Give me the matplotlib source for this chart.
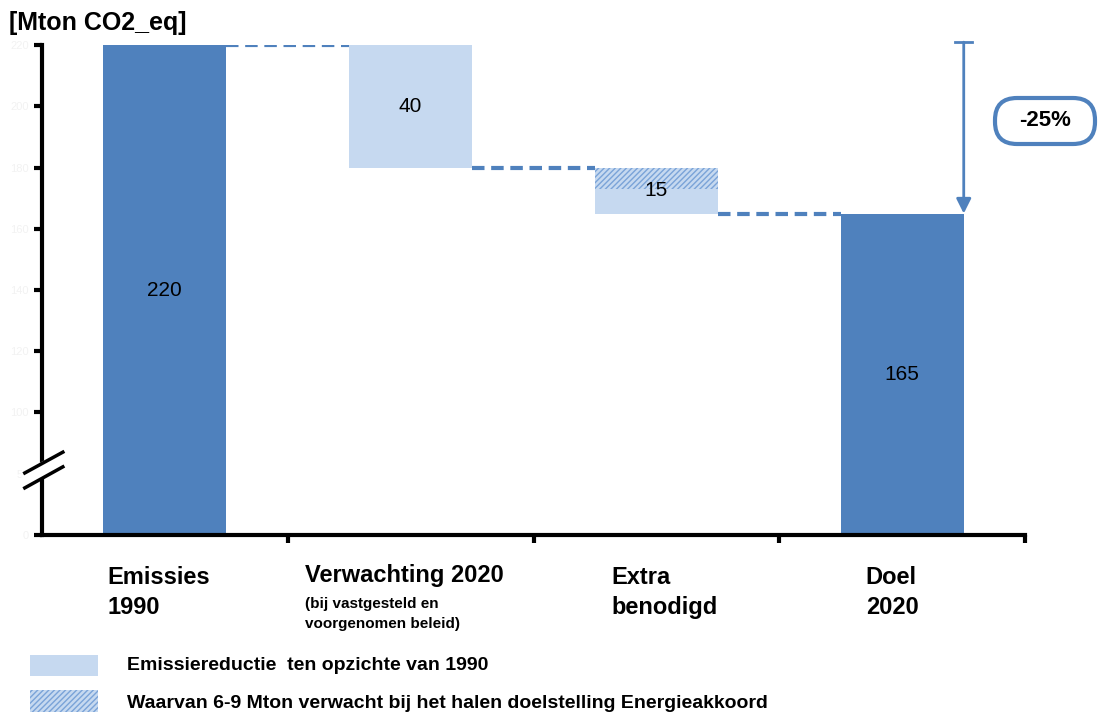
import matplotlib.pyplot as plt
from matplotlib.patches import FancyBboxPatch, Rectangle
import numpy as np

plt.rcParams['font.family'] = ['Liberation Sans', 'DejaVu Sans']

# data
categories = ['Emissies\n1990', 'Verwachting 2020', 'Extra\nbenodigd', 'Doel\n2020']
totals_start = 220
reductions = [40, 15]
target = 165
hatch_part = 7          # part of "Extra benodigd" from Energieakkoord (6-9 Mton)
axis_floor = 60
yticks = [60, 80, 100, 120, 140, 160, 180, 200, 220]
ytick_labels = ['0', '50', '100', '120', '140', '160', '180', '200', '220']

dark = '#4f81bd'
light = '#c6d9f0'

fig = plt.figure(figsize=(11, 7.18), dpi=100)
ax = fig.add_axes([0.038, 0.255, 0.894, 0.682])

x = np.arange(len(categories))
w = 0.5

# full bars
ax.bar(x[0], totals_start - axis_floor, bottom=axis_floor, width=w, color=dark)
ax.bar(x[3], target - axis_floor, bottom=axis_floor, width=w, color=dark)

# floating reduction bars
level = totals_start
levels = [level]
for i, r in enumerate(reductions):
    ax.bar(x[i + 1], r, bottom=level - r, width=w, color=light)
    level -= r
    levels.append(level)

# hatched part on top of "Extra benodigd"
ax.bar(x[2], hatch_part, bottom=levels[1] - hatch_part, width=w, color=light,
       hatch='//////', edgecolor='#7aa3d8', linewidth=0)

# value labels
ax.text(x[0], (totals_start + axis_floor) / 2, str(totals_start), ha='center', va='center',
        fontsize=15)
for i, r in enumerate(reductions):
    ax.text(x[i + 1], levels[i] - r / 2, str(r), ha='center', va='center', fontsize=15)
ax.text(x[3], (target + axis_floor) / 2, str(target), ha='center', va='center', fontsize=15)

# dashed connectors
for i, lv in enumerate(levels):
    ax.plot([x[i] + w / 2, x[i + 1] - w / 2], [lv, lv], color=dark, lw=3,
            ls=(0, (3, 1.6)))

# arrow showing -25%
ax.annotate('', xy=(x[3] + w / 2, target), xytext=(x[3] + w / 2, totals_start + 1),
            arrowprops=dict(arrowstyle='-|>', color=dark, lw=2, mutation_scale=22,
                            shrinkA=0, shrinkB=0))
ax.plot([x[3] + w / 2 - 0.035, x[3] + w / 2 + 0.035], [totals_start + 1] * 2,
        color=dark, lw=2, clip_on=False)

ax.set_xlim(-0.5, 3.5)
ax.set_ylim(axis_floor, totals_start)
ax.set_xticks([0.5, 1.5, 2.5, 3.5])
ax.set_xticklabels([])
ax.set_yticks(yticks)
ax.set_yticklabels(ytick_labels, color='#f2f2f2', fontsize=8)
ax.tick_params(axis='both', width=3, length=6, direction='out')
for s in ['top', 'right']:
    ax.spines[s].set_visible(False)
for s in ['left', 'bottom']:
    ax.spines[s].set_linewidth(3)

# axis break marks
ax.fill([-0.02, 0.02, 0.02, -0.02], [0.096, 0.139, 0.169, 0.1265], color='white',
        transform=ax.transAxes, clip_on=False, zorder=5)
ax.plot([-0.0173, 0.0214], [0.1265, 0.169], color='black', lw=2.5,
        transform=ax.transAxes, clip_on=False, zorder=6)
ax.plot([-0.0173, 0.0214], [0.096, 0.139], color='black', lw=2.5,
        transform=ax.transAxes, clip_on=False, zorder=6)

# unit
fig.text(0.008, 0.968, '[Mton CO2_eq]', fontsize=18, fontweight='bold', va='center')

# category labels
lab_x = [0.098, 0.277, 0.556, 0.787]
for i in [0, 2, 3]:
    fig.text(lab_x[i], 0.175, categories[i], fontsize=17, fontweight='bold', va='center',
             linespacing=1.4)
fig.text(lab_x[1], 0.198, categories[1], fontsize=17, fontweight='bold', va='center')
fig.text(lab_x[1], 0.145, '(bij vastgesteld en\nvoorgenomen beleid)', fontsize=11,
         fontweight='bold', va='center', linespacing=1.5)

# legend
fig.patches.append(Rectangle((0.30, 0.42), 0.68, 0.21, transform=fig.dpi_scale_trans,
                             facecolor=light, edgecolor='none'))
fig.patches.append(Rectangle((0.30, 0.06), 0.68, 0.22, transform=fig.dpi_scale_trans,
                             facecolor=light, hatch='//////', edgecolor='#7aa3d8', lw=0))
fig.text(0.1155, 1 - 666 / 718, 'Emissiereductie  ten opzichte van 1990',
         fontsize=14, fontweight='bold', va='center')
fig.text(0.1155, 1 - 703 / 718, 'Waarvan 6-9 Mton verwacht bij het halen doelstelling Energieakkoord',
         fontsize=14, fontweight='bold', va='center')

# -25% box
fig.patches.append(FancyBboxPatch((9.95, 5.74), 1.0, 0.46, transform=fig.dpi_scale_trans,
                                  boxstyle='round,pad=0,rounding_size=0.22',
                                  facecolor='white', edgecolor=dark, lw=3))
fig.text(10.45 / 11, 5.97 / 7.18, '-25%', fontsize=16, fontweight='bold',
         ha='center', va='center')

fig.savefig('out.png', dpi=100)
